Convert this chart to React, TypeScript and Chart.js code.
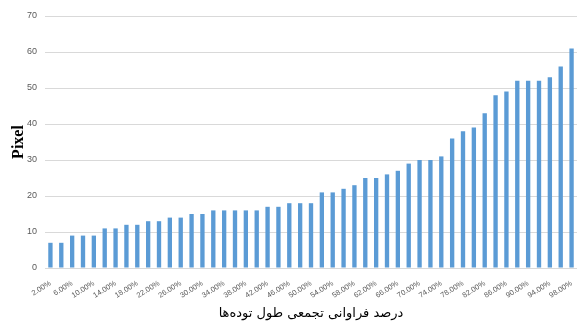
import React, { useEffect, useRef } from "react";
import { Chart, registerables } from "chart.js";

Chart.register(...registerables);

// Cumulative frequency percentages (2% … 98%)
const categories: string[] = [
  "2.00%", "4.00%", "6.00%", "8.00%", "10.00%", "12.00%", "14.00%", "16.00%", "18.00%", "20.00%",
  "22.00%", "24.00%", "26.00%", "28.00%", "30.00%", "32.00%", "34.00%", "36.00%", "38.00%", "40.00%",
  "42.00%", "44.00%", "46.00%", "48.00%", "50.00%", "52.00%", "54.00%", "56.00%", "58.00%", "60.00%",
  "62.00%", "64.00%", "66.00%", "68.00%", "70.00%", "72.00%", "74.00%", "76.00%", "78.00%", "80.00%",
  "82.00%", "84.00%", "86.00%", "88.00%", "90.00%", "92.00%", "94.00%", "96.00%", "98.00%",
];

// Cluster length in pixels
const pixelValues: number[] = [
  7, 7, 9, 9, 9, 11, 11, 12, 12, 13,
  13, 14, 14, 15, 15, 16, 16, 16, 16, 16,
  17, 17, 18, 18, 18, 21, 21, 22, 23, 25,
  25, 26, 27, 29, 30, 30, 31, 36, 38, 39,
  43, 48, 49, 52, 52, 52, 53, 56, 61,
];

const yTitle = "Pixel";
const xTitle = "درصد فراوانی تجمعی طول توده‌ها";

export default function App() {
  const canvasRef = useRef<HTMLCanvasElement | null>(null);

  useEffect(() => {
    document.body.style.margin = "0";
    const canvas = canvasRef.current;
    if (!canvas) return;
    const chart = new Chart(canvas, {
      type: "bar",
      data: {
        labels: categories,
        datasets: [
          {
            data: pixelValues,
            backgroundColor: "#5b9bd5",
            barPercentage: 0.4,
            categoryPercentage: 1,
          },
        ],
      },
      options: {
        animation: false,
        responsive: false,
        maintainAspectRatio: false,
        layout: { padding: { top: 16, right: 0, left: 9, bottom: 4 } },
        plugins: {
          legend: { display: false },
          tooltip: { enabled: false },
        },
        scales: {
          x: {
            grid: { display: false },
            border: { display: false },
            afterFit: (scale: any) => {
              scale.height = 53;
              scale.paddingLeft = 0;
              scale.paddingRight = 0;
            },
            ticks: {
              autoSkip: false,
              minRotation: 32,
              maxRotation: 32,
              padding: 3,
              color: "#595959",
              font: { family: "'Liberation Sans', Arial, sans-serif", size: 7.5 },
              callback: (_v: any, i: number) => (i % 2 === 0 ? categories[i] : ""),
            },
            title: {
              display: true,
              text: xTitle,
              color: "#000000",
              font: { family: "'DejaVu Sans', sans-serif", size: 13 },
              padding: { top: 2, bottom: 0 },
            },
          },
          y: {
            min: 0,
            max: 70,
            grid: { color: "#d9d9d9", drawTicks: false },
            border: { display: false },
            afterFit: (scale: any) => {
              scale.width = 36;
            },
            ticks: {
              stepSize: 10,
              padding: 8,
              color: "#595959",
              font: { family: "'Liberation Sans', Arial, sans-serif", size: 9 },
            },
            title: {
              display: true,
              text: yTitle,
              color: "#000000",
              font: { family: "'Liberation Serif', 'Times New Roman', serif", size: 16, weight: "bold" },
              padding: { top: 0, bottom: 0 },
            },
          },
        },
      },
    });
    return () => chart.destroy();
  }, []);

  return (
    <div style={{ position: "absolute", left: 0, top: 0, width: 577, height: 325, background: "#fff" }}>
      <canvas ref={canvasRef} width={577} height={325} />
    </div>
  );
}
